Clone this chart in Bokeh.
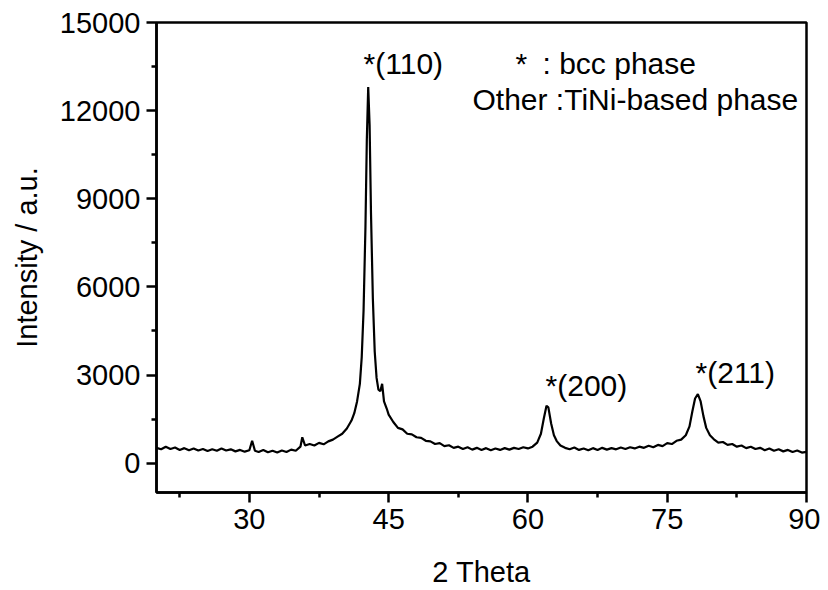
from bokeh.plotting import figure
from bokeh.models import FixedTicker, Label, Range1d
from bokeh.embed import file_html
from bokeh.resources import INLINE

# XRD pattern (2 Theta, intensity)
two_theta = [20.0, 20.5, 21.0, 21.5, 22.0, 22.5, 23.0, 23.5, 24.0, 24.5, 25.0, 25.5, 26.0, 26.5,
             27.0, 27.5, 28.0, 28.5, 29.0, 29.5, 30.0, 30.3, 30.6, 31.0, 31.5, 32.0, 32.5, 33.0,
             33.5, 34.0, 34.5, 35.0, 35.5, 35.7, 36.0, 36.5, 37.0, 37.5, 38.0, 38.5, 39.0, 39.5,
             40.0, 40.5, 41.0, 41.3, 41.6, 41.9, 42.1, 42.3, 42.5, 42.65, 42.8, 42.95, 43.1, 43.3,
             43.5, 43.7, 43.9, 44.1, 44.3, 44.5, 44.8, 45.0, 45.5, 46.0, 46.5, 47.0, 47.5, 48.0,
             48.5, 49.0, 49.5, 50.0, 50.5, 51.0, 51.5, 52.0, 52.5, 53.0, 53.5, 54.0, 54.5, 55.0,
             55.5, 56.0, 56.5, 57.0, 57.5, 58.0, 58.5, 59.0, 59.5, 60.0, 60.5, 61.0, 61.4, 61.7,
             62.0, 62.2, 62.5, 62.8, 63.1, 63.5, 64.0, 64.5, 65.0, 65.5, 66.0, 66.5, 67.0, 67.5,
             68.0, 68.5, 69.0, 69.5, 70.0, 70.5, 71.0, 71.5, 72.0, 72.5, 73.0, 73.5, 74.0, 74.5,
             75.0, 75.5, 76.0, 76.5, 77.0, 77.4, 77.7, 78.0, 78.3, 78.6, 78.9, 79.2, 79.6, 80.0,
             80.5, 81.0, 81.5, 82.0, 82.5, 83.0, 83.5, 84.0, 84.5, 85.0, 85.5, 86.0, 86.5, 87.0,
             87.5, 88.0, 88.5, 89.0, 89.5, 90.0]
intensity = [520, 470, 560, 480, 530, 450, 510, 440, 500, 430, 480, 410, 470, 420,
             500, 430, 470, 400, 450, 390, 440, 760, 420, 380, 450, 370, 420, 360,
             430, 380, 460, 420, 560, 880, 600, 650, 600, 690, 640, 740, 800, 900,
             1000, 1180, 1450, 1700, 2100, 2700, 3600, 5200, 8000, 11000, 12800, 11500, 8500, 5600,
             3800, 2900, 2500, 2450, 2700, 2100, 1850, 1650, 1400, 1200, 1150, 1000, 980, 880,
             860, 760, 740, 650, 680, 580, 610, 520, 560, 480, 540, 460, 520, 450,
             510, 440, 500, 450, 510, 460, 520, 480, 540, 500, 560, 700, 1000, 1500,
             1950, 1900, 1350, 950, 750, 600, 520, 470, 530, 450, 500, 440, 510, 450,
             520, 460, 510, 470, 530, 480, 540, 500, 560, 520, 590, 540, 620, 580,
             680, 650, 760, 800, 950, 1250, 1750, 2200, 2350, 2100, 1600, 1200, 950, 820,
             700, 720, 620, 650, 560, 600, 510, 560, 480, 520, 440, 500, 420, 470,
             400, 450, 380, 430, 360, 380]

x_ticks = [30, 45, 60, 75, 90]
x_minor = [22.5, 37.5, 52.5, 67.5, 82.5]
y_ticks = [0, 3000, 6000, 9000, 12000, 15000]
y_minor = [1500, 4500, 7500, 10500, 13500]

FONT = "Liberation Sans"

p = figure(frame_width=650, frame_height=470, width=820, height=582,
           output_backend="svg", toolbar_location=None,
           x_range=Range1d(20, 90), y_range=Range1d(-1000, 15000),
           min_border_left=156, min_border_top=22, min_border_right=14, min_border_bottom=90)
p.background_fill_color = "white"
p.border_fill_color = "white"
p.outline_line_color = "black"
p.outline_line_width = 2.5
p.xgrid.visible = False
p.ygrid.visible = False

p.line(two_theta, intensity, line_color="black", line_width=2.2)

for ax in (p.xaxis[0], p.yaxis[0]):
    ax.axis_line_width = 2.5
    ax.axis_line_color = "black"
    ax.major_tick_line_width = 2.5
    ax.minor_tick_line_width = 2.5
    ax.major_tick_in = 0
    ax.major_tick_out = 10
    ax.minor_tick_in = 0
    ax.minor_tick_out = 5
    ax.major_label_text_font = FONT
    ax.major_label_text_font_size = "29px"
    ax.major_label_text_color = "black"
    ax.axis_label_text_font = FONT
    ax.axis_label_text_font_size = "29px"
    ax.axis_label_text_font_style = "normal"
    ax.axis_label_text_color = "black"
    ax.major_label_standoff = 6

p.xaxis[0].ticker = FixedTicker(ticks=x_ticks, minor_ticks=x_minor)
p.yaxis[0].ticker = FixedTicker(ticks=y_ticks, minor_ticks=y_minor)
p.xaxis[0].axis_label = "2 Theta"
p.yaxis[0].axis_label = "Intensity / a.u."
p.xaxis[0].axis_label_standoff = 24
p.yaxis[0].axis_label_standoff = 14

def add_text(x, y, t):
    p.add_layout(Label(x=x, y=y, text=t, text_font=FONT, text_font_size="30px",
                       text_color="black", text_baseline="middle", text_align="left"))

add_text(42.3, 13600, "*(110)")
add_text(58.66, 13600, "*")
add_text(61.57, 13600, ": bcc phase")
add_text(54.03, 12380, "Other :TiNi-based phase")
add_text(61.9, 2640, "*(200)")
add_text(78.05, 3090, "*(211)")

open("out.html", "w").write(file_html(p, INLINE))
